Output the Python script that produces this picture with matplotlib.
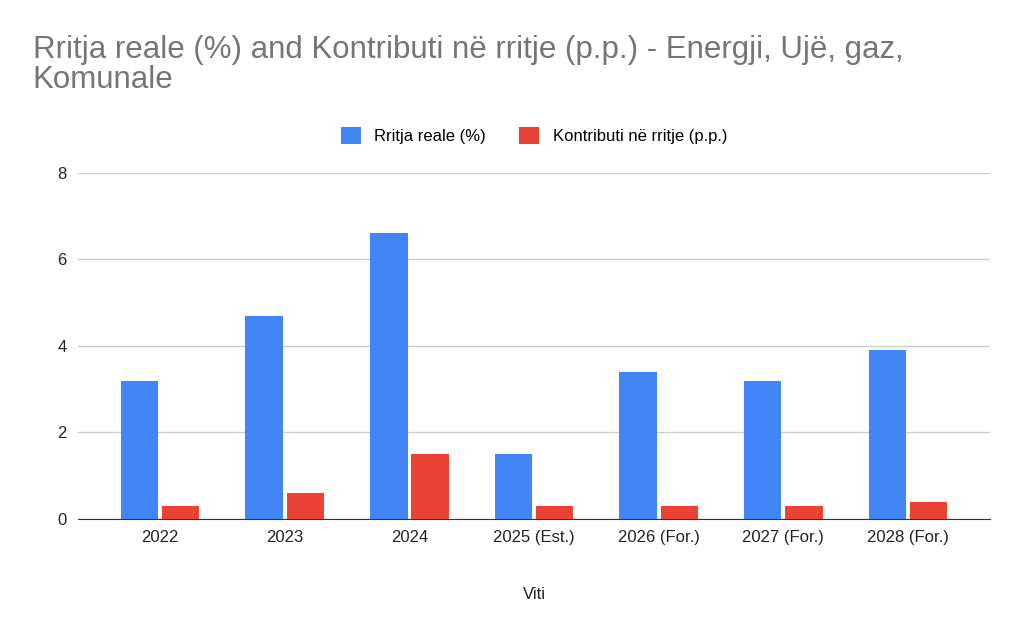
import numpy as np
import matplotlib.pyplot as plt

categories = ['2022', '2023', '2024', '2025 (Est.)', '2026 (For.)', '2027 (For.)', '2028 (For.)']
rritja = [3.2, 4.7, 6.6, 1.5, 3.4, 3.2, 3.9]
kontributi = [0.3, 0.6, 1.5, 0.3, 0.3, 0.3, 0.4]
yTicks = [0, 2, 4, 6, 8]

plt.rcParams['font.family'] = ['Liberation Sans', 'DejaVu Sans']


def plotBars(labels, seriesA, seriesB, title=None, xAxisTitle=None, save=False, saveDir=None):
    plt.figure(figsize=(10.24, 6.33), dpi=100)
    plt.axes([0.076, 0.18, 0.891, 0.547])
    x = np.arange(len(labels))
    width = 0.3
    plt.bar(x - 0.165, seriesA, width=width, color='#4285f4', label='Rritja reale (%)', zorder=3)
    plt.bar(x + 0.165, seriesB, width=width, color='#ea4335', label='Kontributi në rritje (p.p.)', zorder=3)
    plt.xticks(x, labels, fontsize=12, color='#222222')
    plt.yticks(yTicks, fontsize=12, color='#222222')
    plt.ylim(0, 8)
    plt.xlim(-0.66, len(labels) - 0.34)
    plt.grid(axis='y', color='#cccccc', linewidth=1, zorder=0)
    plt.tick_params(length=0, pad=8)
    ax = plt.gca()
    for side in ['top', 'right', 'left']:
        ax.spines[side].set_visible(False)
    ax.spines['bottom'].set_color('#333333')

    if(title is not None):
        plt.figtext(0.032, 0.85, title, fontsize=22.5, color='#757575', ha='left', va='bottom', linespacing=1.0)
    if(xAxisTitle is not None):
        plt.xlabel(xAxisTitle, fontsize=12, color='#222222', labelpad=30)

    plt.legend(loc='lower center', bbox_to_anchor=(0.5, 1.04), ncol=2, frameon=False,
               fontsize=12, handlelength=1.2, handleheight=1.2, columnspacing=2)

    if(save and saveDir is not None):
        plt.savefig(saveDir)


plotBars(categories, rritja, kontributi,
         title='Rritja reale (%) and Kontributi në rritje (p.p.) - Energji, Ujë, gaz,\nKomunale',
         xAxisTitle='Viti', save=True, saveDir='out.png')
